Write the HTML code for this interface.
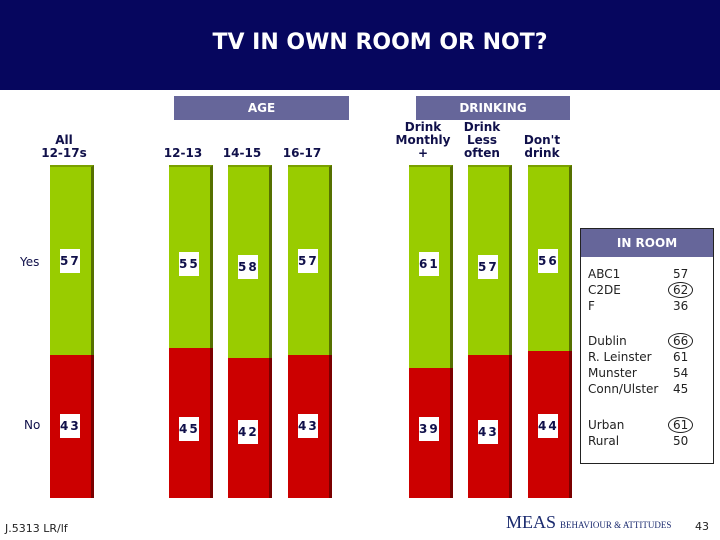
<!DOCTYPE html>
<html><head><meta charset="utf-8"><style>
body{margin:0;width:720px;height:540px;background:#fff;position:relative;overflow:hidden;font-family:"DejaVu Sans","Liberation Sans",sans-serif}
.abs{position:absolute}
#hdr{left:0;top:0;width:720px;height:90px;background:#06065e}
#title{left:0;top:30px;width:760px;text-align:center;color:#fff;font-size:22px;font-weight:bold}
.grp{background:#66669a;color:#fff;font-size:12px;font-weight:bold;text-align:center;line-height:24px;height:24px}
.cat{font-size:12px;font-weight:bold;color:#10104a;text-align:center;line-height:13px}
.lbl{background:#fff;color:#10104a;font-size:12px;font-weight:bold;text-align:center;width:20px;height:24px;line-height:24px;letter-spacing:2px}
.row{font-size:12px;color:#222;line-height:16px}
.circ{border:1px solid #222;border-radius:50%;padding:0 4px;margin-left:-5px}
</style></head><body>
<div id="hdr" class="abs"></div>
<div id="title" class="abs">TV IN OWN ROOM OR NOT?</div>
<div class="abs grp" style="left:174px;top:96px;width:175px">AGE</div>
<div class="abs grp" style="left:416px;top:96px;width:154px">DRINKING</div>
<div class="abs cat" style="left:20px;top:256px;font-weight:normal;font-size:12px">Yes</div>
<div class="abs cat" style="left:24px;top:419px;font-weight:normal;font-size:12px">No</div>
<div id="chart"></div>
<div class="abs" style="left:580px;top:228px;width:134px;height:236px;border:1px solid #222;box-sizing:border-box">
<div class="grp" style="height:28px;line-height:28px">IN ROOM</div>
<div class="abs row" style="left:7px;top:37px">ABC1<br>C2DE<br>F</div>
<div class="abs row" style="left:92px;top:37px">57<br><span class="circ">62</span><br>36</div>
<div class="abs row" style="left:7px;top:104px">Dublin<br>R. Leinster<br>Munster<br>Conn/Ulster</div>
<div class="abs row" style="left:92px;top:104px"><span class="circ">66</span><br>61<br>54<br>45</div>
<div class="abs row" style="left:7px;top:188px">Urban<br>Rural</div>
<div class="abs row" style="left:92px;top:188px"><span class="circ">61</span><br>50</div>
</div>
<div class="abs" style="left:5px;top:522px;font-size:11px;color:#222">J.5313 LR/lf</div>
<div class="abs" style="left:506px;top:512px;font-family:'Liberation Serif',serif;font-size:18px;color:#1a2a6e">MEAS</div>
<div class="abs" style="left:560px;top:520px;font-family:'Liberation Serif',serif;font-size:9px;color:#1a2a6e">BEHAVIOUR &amp; ATTITUDES</div>
<div class="abs" style="left:695px;top:520px;font-size:11px;color:#222">43</div>
<script>
const categories=["All\n12-17s","12-13","14-15","16-17","Drink\nMonthly\n+","Drink\nLess\noften","Don't\ndrink"];
const yesValues=[57,55,58,57,61,57,56];
const noValues=[43,45,42,43,39,43,44];
const barLefts=[50,169,228,288,409,468,528];
const top0=165,bot0=498,bw=44;
const yScale=v=>(bot0-top0)*v/100;
const chart=document.getElementById('chart');
function mk(css){const d=document.createElement('div');d.className='abs';d.style.cssText=css;chart.appendChild(d);return d;}
categories.forEach((c,i)=>{
 const x=barLefts[i];
 const tot=yesValues[i]+noValues[i];
 const yh=yScale(yesValues[i]*100/tot);
 const g=mk(`left:${x}px;top:${top0}px;width:${bw}px;height:${yh}px;background:#99cc00;border-right:3px solid #557000;border-top:2px solid #7aa000;box-sizing:border-box`);
 
 
 const r=mk(`left:${x}px;top:${top0+yh}px;width:${bw}px;height:${bot0-top0-yh}px;background:#cc0000;border-right:3px solid #7a0000;box-sizing:border-box`);
 
 
 const ly=mk(`left:${x+10}px;top:${249+(i%3)*3}px`);ly.className='abs lbl';ly.textContent=yesValues[i];
 
 
 const ln=mk(`left:${x+10}px;top:${414+(i%3)*3}px`);ln.className='abs lbl';ln.textContent=noValues[i];
 
 
 const lines=c.split('\n');
 const cl=mk(`left:${x-20}px;top:${160-lines.length*13}px;width:${bw+24}px`);cl.className='abs cat';cl.innerHTML=lines.join('<br>');
 
 
});
</script>
</body></html>
